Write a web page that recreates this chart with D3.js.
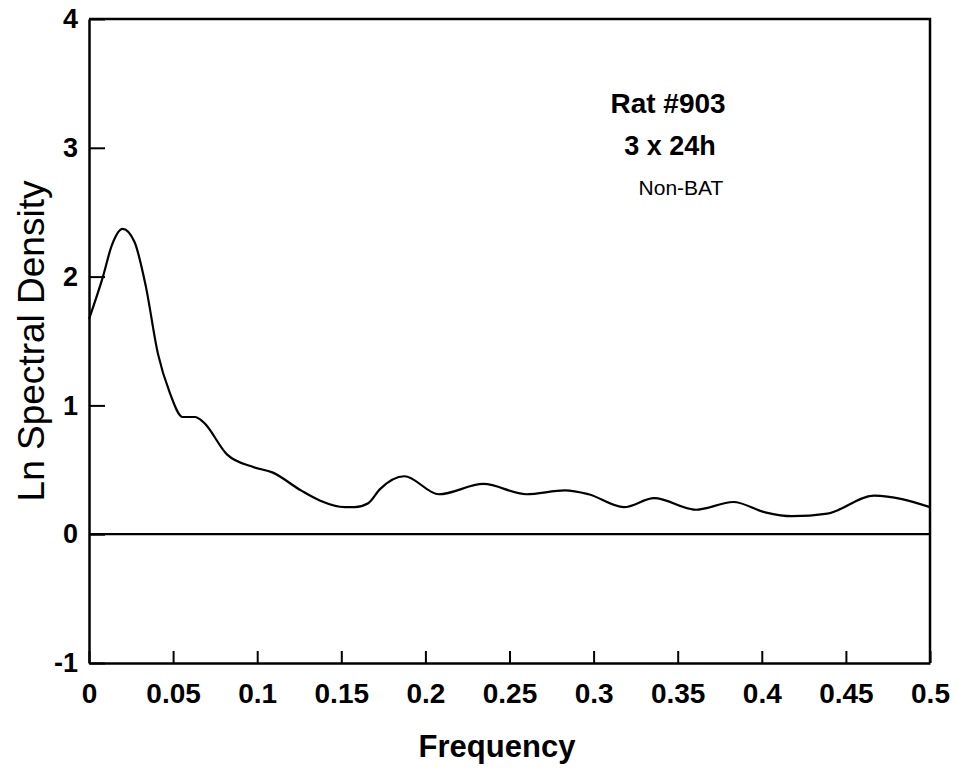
<!DOCTYPE html>
<meta charset="utf-8">
<style>
  body { margin: 0; background: #fff; }
  text { font-family: "Liberation Sans", Arial, sans-serif; fill: #000; }
</style>
<body>
<svg width="958" height="775"></svg>
<script src="https://d3js.org/d3.v7.min.js"></script>
<script>

// spectrum (frequency, ln spectral density)
var freq = [0, 0.0083, 0.0135, 0.020, 0.027, 0.0337, 0.041, 0.048, 0.0557, 0.063,
            0.068, 0.082, 0.098, 0.109, 0.126, 0.1375, 0.152, 0.158, 0.166, 0.173,
            0.1875, 0.208, 0.2345, 0.26, 0.283, 0.297, 0.318, 0.336, 0.361, 0.383,
            0.402, 0.418, 0.439, 0.4667, 0.5];
var lnsd = [1.67, 2.0, 2.24, 2.37, 2.27, 1.93, 1.40, 1.10, 0.91, 0.91,
            0.87, 0.62, 0.52, 0.48, 0.34, 0.26, 0.21, 0.21, 0.24, 0.35,
            0.45, 0.31, 0.39, 0.31, 0.34, 0.31, 0.21, 0.28, 0.19, 0.25,
            0.17, 0.14, 0.16, 0.30, 0.21];

var xTicks = [0, 0.05, 0.1, 0.15, 0.2, 0.25, 0.3, 0.35, 0.4, 0.45, 0.5];
var yTicks = [-1, 0, 1, 2, 3, 4];
var notes = ["Rat #903", "3 x 24h", "Non-BAT"];

// plot box edges (window.top is taken, so prefix them)
var svg = d3.select("svg"),
    boxL = 89, boxR = 930, boxT = 19, boxB = 663;

var x = d3.scaleLinear().domain([0, 0.5]).range([boxL, boxR]);
var y = d3.scaleLinear().domain([-1, 4]).range([boxB, boxT]);

// frame: top and right sides have no ticks
svg.append("path")
    .attr("d", "M" + boxL + "," + boxT + "H" + boxR + "V" + boxB)
    .attr("fill", "none")
    .attr("stroke", "#000")
    .attr("stroke-width", 2.5);

// bottom axis, ticks pointing in
var xAxis = svg.append("g")
    .attr("transform", "translate(0," + boxB + ")")
    .call(d3.axisBottom(x).tickValues(xTicks).tickSizeInner(-12).tickSizeOuter(0)
      .tickFormat(function(d) { return String(d); }));
xAxis.select(".domain").attr("stroke-width", 2.5);
xAxis.selectAll(".tick line").attr("stroke-width", 2);
xAxis.selectAll(".tick text")
    .attr("y", 20)
    .attr("dy", "0.71em")
    .style("font-size", "28px")
    .style("font-weight", "bold")
    .style("font-family", "'Liberation Sans', Arial, sans-serif");

// left axis, ticks pointing in; plain hyphen for -1 like the original
var yAxis = svg.append("g")
    .attr("transform", "translate(" + boxL + ",0)")
    .call(d3.axisLeft(y).tickValues(yTicks).tickSizeInner(-16).tickSizeOuter(0)
      .tickFormat(function(d) { return String(d); }));
yAxis.select(".domain").attr("stroke-width", 2.5);
yAxis.selectAll(".tick line").attr("stroke-width", 2);
yAxis.selectAll(".tick text")
    .attr("x", -11)
    .style("font-size", "27px")
    .style("font-weight", "bold")
    .style("font-family", "'Liberation Sans', Arial, sans-serif");

// zero reference line
svg.append("line")
    .attr("x1", x(0)).attr("x2", x(0.5))
    .attr("y1", y(0)).attr("y2", y(0))
    .attr("stroke", "#000")
    .attr("stroke-width", 2.2);

// the spectrum
var line = d3.line()
    .x(function(d, i) { return x(freq[i]); })
    .y(function(d) { return y(d); })
    .curve(d3.curveMonotoneX);

svg.append("path")
    .datum(lnsd)
    .attr("d", line)
    .attr("fill", "none")
    .attr("stroke", "#000")
    .attr("stroke-width", 2.2);

// axis titles
svg.append("text")
    .attr("x", 497)
    .attr("y", 757)
    .attr("text-anchor", "middle")
    .style("font-size", "31px")
    .style("font-weight", "bold")
    .text("Frequency");

svg.append("text")
    .attr("transform", "translate(44,341) rotate(-90)")
    .attr("text-anchor", "middle")
    .style("font-size", "37px")
    .text("Ln Spectral Density");

// annotation in the upper right
svg.append("text").attr("x", 668).attr("y", 113)
    .attr("text-anchor", "middle")
    .style("font-size", "28px").style("font-weight", "bold")
    .text(notes[0]);
svg.append("text").attr("x", 670).attr("y", 155)
    .attr("text-anchor", "middle")
    .style("font-size", "27px").style("font-weight", "bold")
    .text(notes[1]);
svg.append("text").attr("x", 681).attr("y", 195)
    .attr("text-anchor", "middle")
    .style("font-size", "21px")
    .text(notes[2]);

</script>
</body>
